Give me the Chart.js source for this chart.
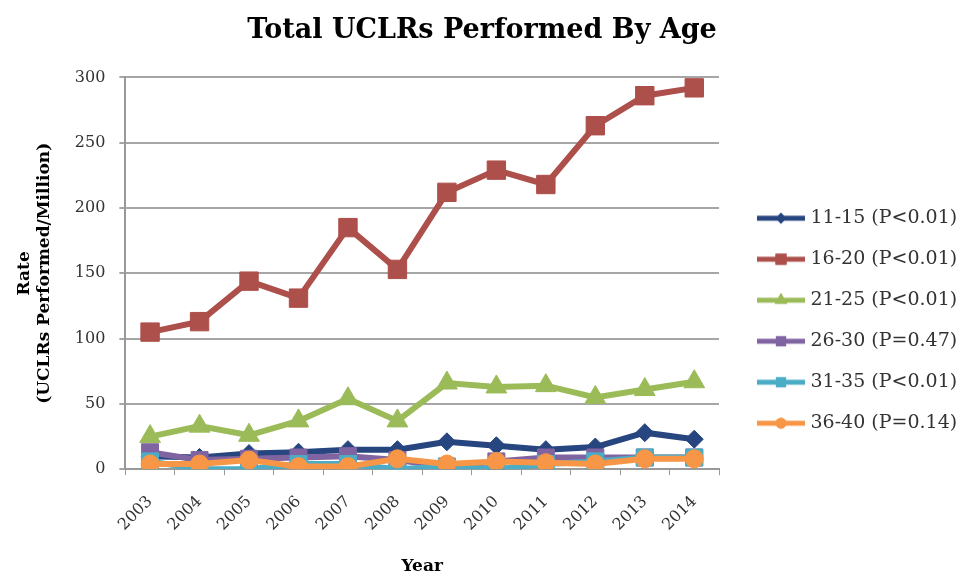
<!DOCTYPE html>
<html>
<head>
<meta charset="utf-8">
<script src="https://cdn.jsdelivr.net/npm/chart.js@4.4.1/dist/chart.umd.min.js"></script>
<style>
  html, body { margin: 0; padding: 0; background: #fff; }
  #wrap { width: 962px; height: 578px; }
</style>
</head>
<body>
<div id="wrap"><canvas id="chart" width="962" height="578"></canvas></div>
<script>
// ── data ─────────────────────────────────────────────────────
const years = ["2003", "2004", "2005", "2006", "2007", "2008", "2009", "2010", "2011", "2012", "2013", "2014"];
const yTicks = [0, 50, 100, 150, 200, 250, 300];

const age1115 = [10, 9, 12, 13, 15, 15, 21, 18, 15, 17, 28, 23];
const age1620 = [105, 113, 144, 131, 185, 153, 212, 229, 218, 263, 286, 292];
const age2125 = [25, 33, 26, 37, 54, 37, 66, 63, 64, 55, 61, 67];
const age2630 = [13, 7, 8, 9, 10, 7, 2, 6, 9, 9, 9, 9];
const age3135 = [6, 0, 0, 4, 4, 0, 2, 0, 4, 6, 9, 9];
const age3640 = [4, 4, 7, 2, 2, 8, 4, 6, 5, 4, 8, 8];

const seriesLabels = [
  "11-15 (P<0.01)", "16-20 (P<0.01)", "21-25 (P<0.01)",
  "26-30 (P=0.47)", "31-35 (P<0.01)", "36-40 (P=0.14)"
];

const SERIF = "'DejaVu Serif', 'Liberation Serif', serif";
const TXT = "#333";

// style per series: colour, marker, radius
const styles = [
  { c: "#27457f", ps: "rectRot", r: 9 },
  { c: "#ad4f4a", ps: "rect", r: 13 },
  { c: "#9bbb59", ps: "triangle", r: 12 },
  { c: "#8064a2", ps: "rect", r: 12 },
  { c: "#4bacc6", ps: "rect", r: 12 },
  { c: "#f79646", ps: "circle", r: 9 },
];
const values = [age1115, age1620, age2125, age2630, age3135, age3640];

// legend swatch: line with the marker in the middle. The image is wider than
// the legend box, so the line sits towards the right of it (as in Excel)
function swatch(st) {
  const cv = document.createElement("canvas");
  cv.width = 78; cv.height = 20;
  const g = cv.getContext("2d");
  g.strokeStyle = st.c; g.fillStyle = st.c; g.lineWidth = 5;
  g.beginPath(); g.moveTo(25, 10); g.lineTo(73, 10); g.stroke();
  Chart.helpers.drawPoint(g, { pointStyle: st.ps, radius: st.r * 0.6, rotation: 0, borderWidth: 0 }, 49, 10);
  g.fill();
  return cv;
}

const datasets = values.map((v, i) => ({
  label: seriesLabels[i],
  data: v,
  borderColor: styles[i].c,
  backgroundColor: styles[i].c,
  pointBackgroundColor: styles[i].c,
  pointBorderColor: styles[i].c,
  pointStyle: styles[i].ps,
  pointRadius: styles[i].r,
  pointBorderWidth: 1,
  borderWidth: 6,
  tension: 0,
  fill: false,
  order: 6 - i,  // later series on top, like the original
}));

new Chart(document.getElementById("chart"), {
  type: "line",
  data: { labels: years, datasets },
  options: {
    responsive: false,
    animation: false,
    devicePixelRatio: 1,
    // the legend is capped at ~1/4 of the inner width and clipped to its box
    layout: { padding: { left: 8, right: 6, bottom: 1 } },
    plugins: {
      title: {
        display: true,
        text: "Total UCLRs Performed By Age",
        color: "#000",
        font: { family: SERIF, size: 27, weight: "bold" },
        padding: { top: 15, bottom: 30 },
      },
      tooltip: { enabled: false },
      legend: {
        position: "right",
        title: { display: true, text: "", padding: { top: 50, bottom: 0 } },
        labels: {
          color: TXT,
          font: { family: SERIF, size: 19 },
          usePointStyle: true,
          pointStyleWidth: 60,
          boxHeight: 20,
          padding: 22,
          generateLabels: chart => chart.data.datasets.map((ds, i) => ({
            text: ds.label,
            pointStyle: swatch(styles[i]),
            fillStyle: styles[i].c,
            strokeStyle: styles[i].c,
            lineWidth: 0,
            fontColor: TXT,
            hidden: false,
            datasetIndex: i,
          })),
        },
      },
    },
    scales: {
      x: {
        offset: true,
        ticks: { color: TXT, font: { family: SERIF, size: 16 }, maxRotation: 45, minRotation: 45, padding: 17 },
        grid: { display: true, drawOnChartArea: false, offset: true, tickLength: 6, color: "#999", lineWidth: 1 },
        border: { color: "#999", width: 2 },
        title: { display: true, text: "Year", color: "#000", font: { family: SERIF, size: 17, weight: "bold" }, padding: { top: 5, bottom: 0 } },
      },
      y: {
        min: 0,
        max: 300,
        afterBuildTicks: axis => { axis.ticks = yTicks.map(v => ({ value: v })); },
        ticks: { color: TXT, font: { family: SERIF, size: 16 }, padding: 14 },
        grid: { color: "#a6a6a6", lineWidth: 2, tickLength: 6 },
        border: { color: "#999", width: 2 },
        title: {
          display: true,
          text: ["Rate", "(UCLRs Performed/Million)"],
          color: "#000",
          font: { family: SERIF, size: 17, weight: "bold" },
          padding: { top: 6, bottom: 6 },
        },
      },
    },
  },
});
</script>
</body>
</html>
